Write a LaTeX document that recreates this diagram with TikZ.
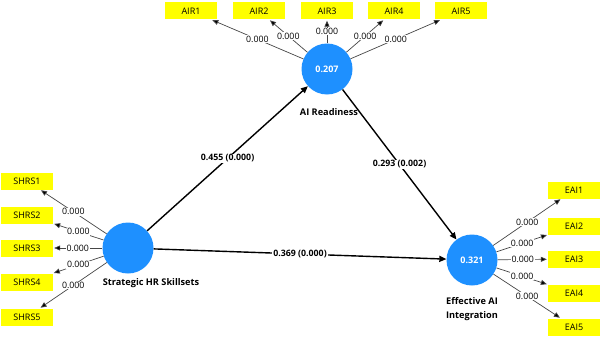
\documentclass[tikz,border=0pt]{standalone}
\usepackage{fontspec}
\setmainfont{Open Sans}
\usetikzlibrary{arrows.meta}
\definecolor{lvblue}{RGB}{30,144,255}
\definecolor{indyel}{RGB}{255,255,0}
\definecolor{loadgray}{RGB}{70,70,70}
\tikzset{
  lv/.style={circle, fill=lvblue, draw=none, minimum size=51pt, inner sep=0pt, text=white, font=\fontsize{9}{10}\selectfont\bfseries},
  ind/.style={rectangle, fill=indyel, draw=none, minimum width=52pt, minimum height=17pt, inner sep=0pt, font=\fontsize{9}{10}\selectfont},
  lvname/.style={font=\fontsize{9.2}{11}\selectfont\bfseries, align=center, inner sep=0pt},
  loadarr/.style={draw=loadgray, line width=0.7pt, -{Triangle[length=6pt,width=5pt,fill=black]}, shorten >=1pt},
  patharr/.style={draw=black, line width=1.4pt, -{Triangle[length=7pt,width=6pt]}},
  lbl/.style={fill=white, inner sep=0.6pt, font=\fontsize{8.8}{10}\selectfont},
  plbl/.style={fill=white, inner sep=1pt, font=\fontsize{8.8}{10}\selectfont\bfseries},
}
\begin{document}
\begin{tikzpicture}[x=1pt, y=-1pt]
\useasboundingbox (0,0) rectangle (601,337);
% latent variables
\node[lv] (air) at (327,69) {0.207};
\node[lv] (hr) at (128,248) {};
\node[lv] (eai) at (472,260) {0.321};
\node[lvname] (airn) at (329,112) {AI Readiness};
\node[lvname] (hrn) at (151,283) {Strategic HR Skillsets};
\node[lvname] (eain) at (472,309) {Effective AI\\[3pt]Integration};
% indicators
\node[ind] (air1) at (191,11) {AIR1};
\node[ind] (air2) at (259,11) {AIR2};
\node[ind] (air3) at (327,11) {AIR3};
\node[ind] (air4) at (394,11) {AIR4};
\node[ind] (air5) at (461,11) {AIR5};
\node[ind] (s1) at (27,181) {SHRS1};
\node[ind] (s2) at (27,215) {SHRS2};
\node[ind] (s3) at (27,248) {SHRS3};
\node[ind] (s4) at (27,282) {SHRS4};
\node[ind] (s5) at (27,317) {SHRS5};
\node[ind] (e1) at (574,190) {EAI1};
\node[ind] (e2) at (574,226) {EAI2};
\node[ind] (e3) at (574,259) {EAI3};
\node[ind] (e4) at (574,293) {EAI4};
\node[ind] (e5) at (574,327) {EAI5};
% loadings
\foreach \t in {air1,air2,air3,air4,air5}
  \draw[loadarr] (air) -- node[lbl]{0.000} (\t);
\foreach \t in {s1,s2,s3,s4,s5}
  \draw[loadarr] (hr) -- node[lbl]{0.000} (\t);
\foreach \t in {e1,e2,e3,e4,e5}
  \draw[loadarr] (eai) -- node[lbl]{0.000} (\t);
% structural paths
\draw[patharr] (hr) -- node[plbl]{0.455 (0.000)} (air);
\draw[patharr] (air) -- node[plbl]{0.293 (0.002)} (eai);
\draw[patharr] (hr) -- node[plbl]{0.369 (0.000)} (eai);
\end{tikzpicture}
\end{document}
